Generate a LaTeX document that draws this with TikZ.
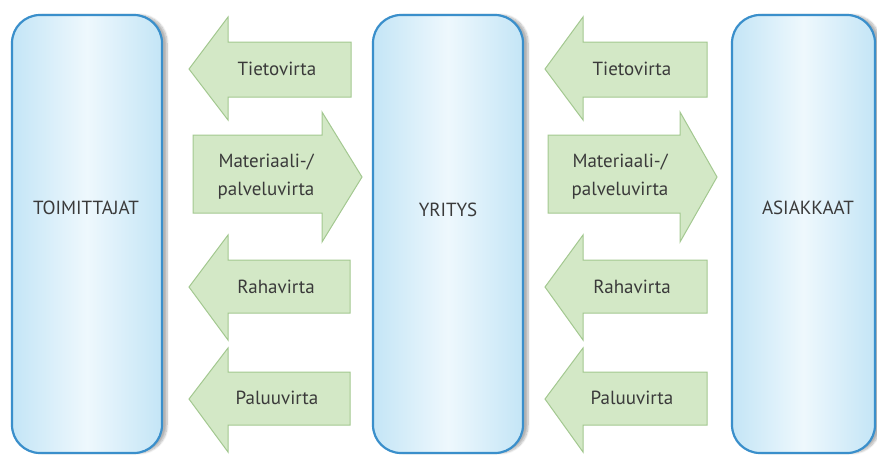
\documentclass[tikz,border=0pt]{standalone}
\usepackage{fontspec}
\setmainfont{PT Sans}
\usetikzlibrary{shadows.blur}
\definecolor{boxline}{HTML}{3A8FCB}
\definecolor{boxedge}{HTML}{C4E5F6}
\definecolor{boxmid}{HTML}{EEF8FD}
\definecolor{arrfill}{HTML}{D3E8C6}
\definecolor{arrline}{HTML}{A3C890}
\definecolor{txt}{HTML}{3A3A3A}
\tikzset{
  partybox/.style={draw=boxline, line width=2.2pt, rounded corners=28pt,
    left color=boxedge, right color=boxedge, middle color=boxmid,
    blur shadow={shadow xshift=5pt, shadow yshift=0pt, shadow opacity=30, shadow blur steps=8}},
  flowarrow/.style={draw=arrline, line width=1pt, fill=arrfill, line join=miter},
  lbl/.style={font=\fontsize{19}{28}\selectfont, text=txt, align=center, inner sep=0pt},
  partylbl/.style={font=\fontsize{19}{22}\selectfont, text=txt, inner sep=0pt}
}
\begin{document}
\begin{tikzpicture}[x=1pt,y=-1pt]
\useasboundingbox (0,0) rectangle (877,456);
% boxes
\path[partybox] (12,15) rectangle (162,453);
\path[partybox] (373,15) rectangle (523,453);
\path[partybox] (732,15) rectangle (875,453);
\node[partylbl] (toim) at (86,208) {TOIMITTAJAT};
\node[partylbl] (yri) at (448,210) {YRITYS};
\node[partylbl] (asi) at (808,208) {ASIAKKAAT};
% left column arrows
\path[flowarrow] (189,69) -- (228,17) -- (228,42) -- (351,42) -- (351,97) -- (228,97) -- (228,120) -- cycle;
\node[lbl] (t1) at (277,69) {Tietovirta};
\path[flowarrow] (193,135) -- (322,135) -- (322,112) -- (362,177) -- (322,242) -- (322,213) -- (193,213) -- cycle;
\node[lbl] (m1) at (266,177) {Materiaali-/\\palveluvirta};
\path[flowarrow] (189,287) -- (228,235) -- (228,260) -- (350,260) -- (350,313) -- (228,313) -- (228,340) -- cycle;
\node[lbl] (r1) at (276,287) {Rahavirta};
\path[flowarrow] (189,399) -- (228,348) -- (228,372) -- (350,372) -- (350,425) -- (228,425) -- (228,452) -- cycle;
\node[lbl] (p1) at (277,398) {Paluuvirta};
% right column arrows
\path[flowarrow] (545,69) -- (583,17) -- (583,42) -- (707,42) -- (707,97) -- (583,97) -- (583,120) -- cycle;
\node[lbl] (t2) at (632,69) {Tietovirta};
\path[flowarrow] (548,135) -- (680,135) -- (680,112) -- (717,177) -- (680,242) -- (680,213) -- (548,213) -- cycle;
\node[lbl] (m2) at (620,177) {Materiaali-/\\palveluvirta};
\path[flowarrow] (545,287) -- (583,235) -- (583,260) -- (707,260) -- (707,313) -- (583,313) -- (583,340) -- cycle;
\node[lbl] (r2) at (632,287) {Rahavirta};
\path[flowarrow] (545,399) -- (583,348) -- (583,372) -- (707,372) -- (707,425) -- (583,425) -- (583,452) -- cycle;
\node[lbl] (p2) at (632,398) {Paluuvirta};
\end{tikzpicture}
\end{document}
